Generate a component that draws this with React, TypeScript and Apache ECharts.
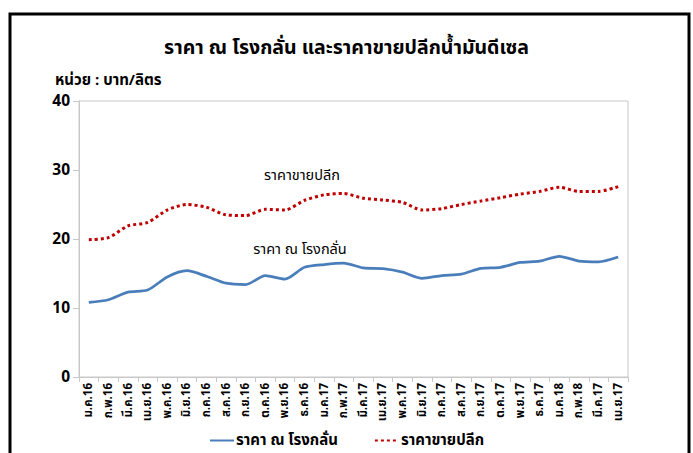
import React, { useEffect, useRef } from "react";
import * as echarts from "echarts";

const categories = [
  "ม.ค.16", "ก.พ.16", "มี.ค.16", "เม.ย.16", "พ.ค.16", "มิ.ย.16", "ก.ค.16", "ส.ค.16",
  "ก.ย.16", "ต.ค.16", "พ.ย.16", "ธ.ค.16", "ม.ค.17", "ก.พ.17", "มี.ค.17", "เม.ย.17",
  "พ.ค.17", "มิ.ย.17", "ก.ค.17", "ส.ค.17", "ก.ย.17", "ต.ค.17", "พ.ย.17", "ธ.ค.17",
  "ม.ค.18", "ก.พ.18", "มี.ค.17", "เม.ย.17",
];

const refineryPrice = [
  10.8, 11.2, 12.3, 12.6, 14.5, 15.4, 14.6, 13.6, 13.4, 14.7, 14.2, 15.9, 16.3, 16.5,
  15.8, 15.7, 15.2, 14.3, 14.7, 14.9, 15.75, 15.9, 16.6, 16.8, 17.5, 16.8, 16.7, 17.4,
];

const retailPrice = [
  19.9, 20.2, 21.9, 22.4, 24.2, 25.0, 24.6, 23.5, 23.4, 24.3, 24.2, 25.6, 26.4, 26.6,
  25.9, 25.65, 25.3, 24.2, 24.4, 25.0, 25.5, 26.0, 26.5, 26.9, 27.5, 26.9, 26.9, 27.6,
];

const seriesNames = ["ราคา ณ โรงกลั่น", "ราคาขายปลีก"];
const titleText = "ราคา ณ โรงกลั่น และราคาขายปลีกน้ำมันดีเซล";
const unitText = "หน่วย : บาท/ลิตร";

const FONT = "Tahoma, 'Noto Sans Thai', 'Loma', 'Garuda', 'Noto Sans', sans-serif";

export default function App() {
  const ref = useRef<HTMLDivElement>(null);
  useEffect(() => {
    if (!ref.current) return;
    const chart = echarts.init(ref.current, undefined, { renderer: "svg" });
    chart.setOption({
      animation: false,
      backgroundColor: "#ffffff",
      textStyle: { fontFamily: FONT },
      title: {
        text: titleText,
        left: "center",
        top: 33,
        textStyle: { fontSize: 19.5, fontWeight: "bold", color: "#000", fontFamily: FONT },
      },
      graphic: [
        {
          type: "rect",
          shape: { x: 10, y: 14, width: 679, height: 470 },
          style: { fill: "none", stroke: "#000", lineWidth: 3 },
          silent: true,
        },
        {
          type: "text",
          x: 55,
          y: 80,
          style: {
            text: unitText,
            font: `bold 15px ${FONT}`,
            fill: "#000",
            verticalAlign: "middle",
          },
        },
        {
          type: "text",
          x: 302,
          y: 176,
          style: {
            text: seriesNames[1],
            font: `14.5px ${FONT}`,
            fill: "#000",
            align: "center",
            verticalAlign: "middle",
            shadowColor: "rgba(0,0,0,0.35)",
            shadowBlur: 2,
            shadowOffsetX: 1,
            shadowOffsetY: 1,
          },
        },
        {
          type: "text",
          x: 300,
          y: 250,
          style: {
            text: seriesNames[0],
            font: `14.5px ${FONT}`,
            fill: "#000",
            align: "center",
            verticalAlign: "middle",
            shadowColor: "rgba(0,0,0,0.35)",
            shadowBlur: 2,
            shadowOffsetX: 1,
            shadowOffsetY: 1,
          },
        },
      ],
      legend: {
        bottom: 0,
        left: "center",
        itemWidth: 24,
        itemHeight: 10,
        itemGap: 36,
        itemStyle: { opacity: 0 },
        textStyle: { fontSize: 15, fontWeight: "bold", color: "#000", fontFamily: FONT, padding: [0, 0, 0, -3] },
        data: [{ name: seriesNames[0] }, { name: seriesNames[1] }],
      },
      grid: {
        left: 79,
        right: 65,
        top: 101,
        bottom: 76,
        show: true,
        borderColor: "#c8c8c8",
        borderWidth: 1,
      },
      xAxis: {
        type: "category",
        data: categories,
        boundaryGap: true,
        axisLine: { show: true, lineStyle: { color: "#c8c8c8" } },
        axisTick: { show: true, length: 5, inside: false, lineStyle: { color: "#c8c8c8" } },
        axisLabel: {
          rotate: 90,
          interval: 0,
          fontSize: 11.5,
          fontWeight: "bold",
          color: "#000",
          margin: 6,
          fontFamily: FONT,
        },
      },
      yAxis: {
        type: "value",
        min: 0,
        max: 40,
        interval: 10,
        splitLine: { show: false },
        axisLine: { show: true, lineStyle: { color: "#c8c8c8" } },
        axisTick: { show: true, length: 6, lineStyle: { color: "#c8c8c8" } },
        axisLabel: { fontSize: 15.5, fontWeight: "bold", color: "#000", margin: 9, fontFamily: FONT },
      },
      series: [
        {
          name: seriesNames[0],
          type: "line",
          data: refineryPrice,
          smooth: 0.25,
          symbol: "none",
          lineStyle: { color: "#4a7ebb", width: 2.75 },
          itemStyle: { color: "#4a7ebb" },
        },
        {
          name: seriesNames[1],
          type: "line",
          data: retailPrice,
          smooth: 0.25,
          symbol: "none",
          lineStyle: { color: "#c00000", width: 3, type: [3, 3] },
          itemStyle: { color: "#c00000" },
        },
      ],
    });
    return () => chart.dispose();
  }, []);
  return (
    <div
      ref={ref}
      style={{ position: "fixed", left: 0, top: 0, width: 693, height: 453 }}
    />
  );
}
